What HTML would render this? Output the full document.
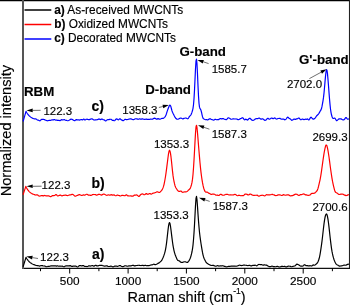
<!DOCTYPE html><html><head><meta charset="utf-8"><style>html,body{margin:0;padding:0;background:#fff;width:350px;height:305px;overflow:hidden}svg{display:block}</style></head><body><svg width="350" height="305" viewBox="0 0 350 305">
<style>text{font-family:"Liberation Sans",Arial,sans-serif;fill:#000;stroke:#000;stroke-width:0.15px}.tk{font-size:11.8px}.an{font-size:11.5px}.bd{font-size:13.3px;font-weight:bold}.bd2{font-size:14px;font-weight:bold}.lg{font-size:11.85px}.ax{font-size:14.5px}</style>
<rect width="350" height="305" fill="#fff"/>
<line x1="0" y1="0.5" x2="350" y2="0.5" stroke="#000" stroke-width="1.4"/>
<line x1="349.5" y1="0" x2="349.5" y2="269" stroke="#222" stroke-width="1.1"/>
<line x1="22" y1="268.4" x2="350" y2="268.4" stroke="#111" stroke-width="1.2"/>
<line x1="23" y1="0" x2="23" y2="269" stroke="#555" stroke-width="2"/>
<polyline points="23.1,266.80 24.0,263.88 24.5,262.26 25.0,260.64 25.5,259.02 26.0,257.40 26.0,257.37 26.5,258.23 27.0,259.02 27.5,259.72 28.0,260.37 28.5,260.95 29.0,261.47 29.5,261.95 30.0,262.38 30.5,262.77 31.0,263.12 31.5,263.44 32.0,263.72 32.5,263.98 33.0,264.22 33.5,264.43 34.0,264.63 34.5,264.82 35.0,265.00 35.5,265.20 36.0,265.38 36.5,265.49 37.0,265.55 37.5,265.59 38.0,265.64 38.5,265.77 39.0,265.96 39.5,266.07 40.0,265.98 40.5,265.75 41.0,265.56 41.5,265.51 42.0,265.54 42.5,265.66 43.0,265.86 43.5,265.99 44.0,265.98 44.5,265.97 45.0,266.13 45.5,266.43 46.0,266.67 46.5,266.76 47.0,266.70 47.5,266.54 48.0,266.36 48.5,266.27 49.0,266.30 49.5,266.29 50.0,266.15 50.5,265.95 51.0,265.80 51.5,265.79 52.0,265.90 52.5,265.95 53.0,265.90 53.5,265.86 54.0,265.84 54.5,265.79 55.0,265.76 55.5,265.88 56.0,266.06 56.5,266.06 57.0,265.91 57.5,265.89 58.0,266.05 58.5,266.22 59.0,266.26 59.5,266.18 60.0,266.14 60.5,266.19 61.0,266.25 61.5,266.17 62.0,266.07 62.5,266.16 63.0,266.45 63.5,266.71 64.0,266.77 64.5,266.62 65.0,266.32 65.5,266.01 66.0,265.85 66.5,265.86 67.0,265.87 67.5,265.81 68.0,265.78 68.5,265.87 69.0,265.94 69.5,265.83 70.0,265.65 70.5,265.66 71.0,265.96 71.5,266.29 72.0,266.40 72.5,266.30 73.0,266.17 73.5,266.11 74.0,266.09 74.5,266.06 75.0,266.01 75.5,266.03 76.0,266.16 76.5,266.42 77.0,266.75 77.5,266.98 78.0,266.87 78.5,266.41 79.0,265.88 79.5,265.60 80.0,265.56 80.5,265.60 81.0,265.71 81.5,265.85 82.0,265.83 82.5,265.62 83.0,265.48 83.5,265.60 84.0,265.95 84.5,266.31 85.0,266.48 85.5,266.47 86.0,266.43 86.5,266.50 87.0,266.58 87.5,266.51 88.0,266.23 88.5,265.91 89.0,265.77 89.5,265.88 90.0,266.05 90.5,266.05 91.0,265.90 91.5,265.74 92.0,265.64 92.5,265.62 93.0,265.77 93.5,266.05 94.0,266.16 94.5,265.91 95.0,265.50 95.5,265.27 96.0,265.36 96.5,265.65 97.0,265.88 97.5,265.93 98.0,265.85 98.5,265.68 99.0,265.46 99.5,265.29 100.0,265.25 100.5,265.29 101.0,265.29 101.5,265.29 102.0,265.38 102.5,265.56 103.0,265.72 103.5,265.83 104.0,265.96 104.5,266.12 105.0,266.18 105.5,266.04 106.0,265.84 106.5,265.76 107.0,265.87 107.5,266.08 108.0,266.32 108.5,266.48 109.0,266.52 109.5,266.47 110.0,266.35 110.5,266.21 111.0,266.14 111.5,266.22 112.0,266.46 112.5,266.75 113.0,266.89 113.5,266.76 114.0,266.45 114.5,266.19 115.0,266.10 115.5,266.09 116.0,266.10 116.5,266.17 117.0,266.29 117.5,266.34 118.0,266.26 118.5,266.06 119.0,265.79 119.5,265.57 120.0,265.52 120.5,265.69 121.0,266.02 121.5,266.33 122.0,266.54 122.5,266.66 123.0,266.66 123.5,266.48 124.0,266.18 124.5,265.90 125.0,265.74 125.5,265.73 126.0,265.84 126.5,266.03 127.0,266.22 127.5,266.25 128.0,266.12 128.5,265.96 129.0,265.88 129.5,265.86 130.0,265.86 130.5,265.86 131.0,265.80 131.5,265.67 132.0,265.49 132.5,265.31 133.0,265.24 133.5,265.37 134.0,265.66 134.5,265.90 135.0,265.88 135.5,265.70 136.0,265.56 136.5,265.52 137.0,265.51 137.5,265.45 138.0,265.32 138.5,265.23 139.0,265.27 139.5,265.38 140.0,265.46 140.5,265.51 141.0,265.57 141.5,265.51 142.0,265.36 142.5,265.28 143.0,265.38 143.5,265.57 144.0,265.65 144.5,265.50 145.0,265.28 145.5,265.28 146.0,265.51 146.5,265.69 147.0,265.67 147.5,265.56 148.0,265.54 148.5,265.60 149.0,265.59 149.5,265.46 150.0,265.28 150.5,265.13 151.0,265.00 151.5,264.94 152.0,264.88 152.5,264.71 153.0,264.43 153.5,264.22 154.0,264.23 154.5,264.41 155.0,264.58 155.5,264.61 156.0,264.46 156.5,264.21 157.0,263.92 157.5,263.66 158.0,263.40 158.5,263.16 159.0,262.91 159.5,262.57 160.0,262.12 160.5,261.66 161.0,261.23 161.5,260.65 162.0,259.82 162.5,258.83 163.0,257.76 163.5,256.55 164.0,255.16 164.5,253.63 165.0,251.83 165.5,249.59 166.0,246.78 166.5,243.31 167.0,239.19 167.5,234.65 168.0,230.13 168.5,226.21 169.0,223.49 169.5,222.51 170.0,223.53 170.5,226.28 171.0,230.04 171.5,234.11 172.0,238.15 172.5,241.98 173.0,245.38 173.5,248.23 174.0,250.61 174.5,252.59 175.0,254.19 175.5,255.56 176.0,256.88 176.5,258.12 177.0,259.20 177.5,260.03 178.0,260.53 178.5,260.70 179.0,260.77 179.5,261.04 180.0,261.54 180.5,262.04 181.0,262.34 181.5,262.44 182.0,262.43 182.5,262.37 183.0,262.25 183.5,262.05 184.0,261.84 184.5,261.73 185.0,261.73 185.5,261.81 186.0,261.99 186.5,262.25 187.0,262.47 187.5,262.43 188.0,262.00 188.5,261.32 189.0,260.60 189.5,259.81 190.0,258.83 190.5,257.51 191.0,255.82 191.5,253.91 192.0,251.75 192.5,248.97 193.0,245.08 193.5,239.81 194.0,233.06 194.5,224.76 195.0,215.14 195.5,205.52 196.0,198.43 196.5,196.42 197.0,199.89 197.5,206.65 198.0,214.15 198.5,221.05 199.0,227.05 199.5,232.20 200.0,236.53 200.5,240.18 201.0,243.49 201.5,246.66 202.0,249.66 202.5,252.40 203.0,254.78 203.5,256.71 204.0,258.13 204.5,259.20 205.0,260.21 205.5,261.28 206.0,262.21 206.5,262.79 207.0,263.13 207.5,263.49 208.0,263.87 208.5,264.18 209.0,264.43 209.5,264.71 210.0,264.98 210.5,265.18 211.0,265.36 211.5,265.48 212.0,265.46 212.5,265.34 213.0,265.30 213.5,265.41 214.0,265.61 214.5,265.84 215.0,266.05 215.5,266.21 216.0,266.22 216.5,266.01 217.0,265.71 217.5,265.58 218.0,265.72 218.5,265.95 219.0,266.05 219.5,265.97 220.0,265.84 220.5,265.78 221.0,265.86 221.5,265.97 222.0,265.91 222.5,265.75 223.0,265.72 223.5,265.93 224.0,266.17 224.5,266.30 225.0,266.40 225.5,266.59 226.0,266.75 226.5,266.79 227.0,266.73 227.5,266.62 228.0,266.47 228.5,266.34 229.0,266.30 229.5,266.36 230.0,266.37 230.5,266.23 231.0,266.06 231.5,266.03 232.0,266.09 232.5,266.13 233.0,266.16 233.5,266.14 234.0,266.06 234.5,265.99 235.0,266.06 235.5,266.22 236.0,266.27 236.5,266.17 237.0,266.04 237.5,265.92 238.0,265.72 238.5,265.45 239.0,265.25 239.5,265.19 240.0,265.24 240.5,265.36 241.0,265.49 241.5,265.53 242.0,265.47 242.5,265.35 243.0,265.21 243.5,265.08 244.0,265.02 244.5,265.08 245.0,265.20 245.5,265.25 246.0,265.25 246.5,265.32 247.0,265.44 247.5,265.53 248.0,265.55 248.5,265.47 249.0,265.32 249.5,265.28 250.0,265.44 250.5,265.72 251.0,265.88 251.5,265.82 252.0,265.63 252.5,265.47 253.0,265.42 253.5,265.42 254.0,265.39 254.5,265.29 255.0,265.18 255.5,265.23 256.0,265.50 256.5,265.79 257.0,265.77 257.5,265.36 258.0,264.82 258.5,264.50 259.0,264.46 259.5,264.52 260.0,264.54 260.5,264.56 261.0,264.56 261.5,264.63 262.0,264.76 262.5,264.95 263.0,265.10 263.5,265.07 264.0,264.92 264.5,264.87 265.0,264.96 265.5,265.03 266.0,265.05 266.5,265.15 267.0,265.36 267.5,265.65 268.0,265.98 268.5,266.30 269.0,266.54 269.5,266.65 270.0,266.65 270.5,266.60 271.0,266.48 271.5,266.28 272.0,266.15 272.5,266.22 273.0,266.42 273.5,266.57 274.0,266.62 274.5,266.66 275.0,266.73 275.5,266.75 276.0,266.64 276.5,266.49 277.0,266.40 277.5,266.41 278.0,266.52 278.5,266.71 279.0,266.92 279.5,267.00 280.0,266.91 280.5,266.73 281.0,266.59 281.5,266.44 282.0,266.31 282.5,266.30 283.0,266.41 283.5,266.48 284.0,266.44 284.5,266.37 285.0,266.46 285.5,266.69 286.0,266.87 286.5,266.84 287.0,266.66 287.5,266.42 288.0,266.23 288.5,266.17 289.0,266.20 289.5,266.24 290.0,266.27 290.5,266.39 291.0,266.61 291.5,266.72 292.0,266.65 292.5,266.50 293.0,266.36 293.5,266.22 294.0,266.11 294.5,266.03 295.0,265.85 295.5,265.48 296.0,264.93 296.5,264.40 297.0,264.15 297.5,264.23 298.0,264.47 298.5,264.72 299.0,265.02 299.5,265.40 300.0,265.82 300.5,266.09 301.0,266.14 301.5,266.07 302.0,266.03 302.5,266.08 303.0,266.02 303.5,265.59 304.0,264.97 304.5,264.68 305.0,264.91 305.5,265.34 306.0,265.60 306.5,265.67 307.0,265.67 307.5,265.70 308.0,265.81 308.5,265.91 309.0,265.91 309.5,265.79 310.0,265.69 310.5,265.73 311.0,265.90 311.5,266.04 312.0,265.86 312.5,265.36 313.0,264.95 313.5,264.94 314.0,265.17 314.5,265.26 315.0,265.03 315.5,264.60 316.0,264.17 316.5,263.77 317.0,263.27 317.5,262.60 318.0,261.72 318.5,260.57 319.0,259.06 319.5,257.07 320.0,254.56 320.5,251.64 321.0,248.43 321.5,244.96 322.0,241.16 322.5,236.97 323.0,232.48 323.5,228.02 324.0,223.91 324.5,220.37 325.0,217.50 325.5,215.40 326.0,214.21 326.5,213.95 327.0,214.71 327.5,216.56 328.0,219.42 328.5,223.02 329.0,227.15 329.5,231.66 330.0,236.21 330.5,240.57 331.0,244.65 331.5,248.32 332.0,251.38 332.5,253.89 333.0,256.06 333.5,257.92 334.0,259.46 334.5,260.78 335.0,261.99 335.5,263.01 336.0,263.81 336.5,264.39 337.0,264.78 337.5,265.02 338.0,265.28 338.5,265.61 339.0,265.91 339.5,266.08 340.0,266.12 340.5,266.02 341.0,265.92 341.5,265.85 342.0,265.75 342.5,265.62 343.0,265.44 343.5,265.22 344.0,265.08 344.5,265.11 345.0,265.22 345.5,265.24 346.0,265.10 346.5,264.88 347.0,264.62 347.5,264.36 348.0,264.22 348.5,264.22 349.0,264.29" fill="none" stroke="#000" stroke-width="1.2" stroke-linejoin="round"/>
<polyline points="23.1,194.70 24.0,191.93 24.5,190.40 25.0,188.86 25.5,187.32 25.8,186.40 26.0,186.80 26.5,187.78 27.0,188.66 27.5,189.45 28.0,190.15 28.5,190.77 29.0,191.33 29.5,191.83 30.0,192.28 30.5,192.67 31.0,193.03 31.5,193.34 32.0,193.62 32.5,193.88 33.0,194.10 33.5,194.30 34.0,194.49 34.5,194.66 35.0,194.82 35.5,194.98 36.0,195.04 36.5,194.91 37.0,194.78 37.5,194.88 38.0,195.25 38.5,195.68 39.0,195.97 39.5,196.07 40.0,196.01 40.5,195.89 41.0,195.77 41.5,195.63 42.0,195.54 42.5,195.64 43.0,195.85 43.5,195.88 44.0,195.64 44.5,195.44 45.0,195.53 45.5,195.77 46.0,195.90 46.5,195.86 47.0,195.82 47.5,195.85 48.0,195.84 48.5,195.80 49.0,195.92 49.5,196.18 50.0,196.47 50.5,196.67 51.0,196.63 51.5,196.28 52.0,195.85 52.5,195.61 53.0,195.58 53.5,195.58 54.0,195.56 54.5,195.48 55.0,195.23 55.5,194.83 56.0,194.58 56.5,194.77 57.0,195.31 57.5,195.80 58.0,195.93 58.5,195.76 59.0,195.53 59.5,195.34 60.0,195.18 60.5,195.15 61.0,195.39 61.5,195.72 62.0,195.83 62.5,195.67 63.0,195.47 63.5,195.38 64.0,195.35 64.5,195.25 65.0,195.09 65.5,195.02 66.0,195.12 66.5,195.34 67.0,195.52 67.5,195.56 68.0,195.47 68.5,195.29 69.0,195.09 69.5,194.96 70.0,194.93 70.5,194.89 71.0,194.78 71.5,194.61 72.0,194.44 72.5,194.36 73.0,194.49 73.5,194.87 74.0,195.39 74.5,195.86 75.0,196.16 75.5,196.19 76.0,195.98 76.5,195.72 77.0,195.52 77.5,195.33 78.0,195.10 78.5,194.88 79.0,194.71 79.5,194.69 80.0,194.81 80.5,195.00 81.0,195.24 81.5,195.45 82.0,195.44 82.5,195.19 83.0,194.96 83.5,194.94 84.0,195.09 84.5,195.20 85.0,195.09 85.5,194.80 86.0,194.48 86.5,194.27 87.0,194.25 87.5,194.48 88.0,194.87 88.5,195.19 89.0,195.27 89.5,195.19 90.0,195.18 90.5,195.31 91.0,195.40 91.5,195.25 92.0,194.91 92.5,194.59 93.0,194.47 93.5,194.51 94.0,194.54 94.5,194.51 95.0,194.50 95.5,194.64 96.0,194.89 96.5,195.08 97.0,195.07 97.5,194.86 98.0,194.59 98.5,194.41 99.0,194.33 99.5,194.36 100.0,194.49 100.5,194.72 101.0,194.95 101.5,195.06 102.0,194.93 102.5,194.59 103.0,194.24 103.5,194.05 104.0,194.06 104.5,194.22 105.0,194.51 105.5,194.82 106.0,195.09 106.5,195.28 107.0,195.27 107.5,195.11 108.0,194.96 108.5,194.95 109.0,195.02 109.5,195.10 110.0,195.09 110.5,194.91 111.0,194.68 111.5,194.67 112.0,194.91 112.5,195.16 113.0,195.15 113.5,194.96 114.0,194.90 114.5,195.12 115.0,195.49 115.5,195.75 116.0,195.73 116.5,195.47 117.0,195.16 117.5,195.06 118.0,195.20 118.5,195.38 119.0,195.47 119.5,195.61 120.0,195.86 120.5,195.99 121.0,195.83 121.5,195.56 122.0,195.36 122.5,195.27 123.0,195.32 123.5,195.47 124.0,195.63 124.5,195.72 125.0,195.64 125.5,195.29 126.0,194.89 126.5,194.84 127.0,195.24 127.5,195.69 128.0,195.89 128.5,195.90 129.0,195.92 129.5,195.98 130.0,195.98 130.5,195.90 131.0,195.91 131.5,196.05 132.0,196.15 132.5,196.18 133.0,196.12 133.5,195.83 134.0,195.39 134.5,195.13 135.0,195.14 135.5,195.14 136.0,195.00 136.5,194.93 137.0,195.07 137.5,195.40 138.0,195.90 138.5,196.38 139.0,196.45 139.5,196.02 140.0,195.36 140.5,194.75 141.0,194.34 141.5,194.13 142.0,193.99 142.5,193.94 143.0,194.10 143.5,194.42 144.0,194.70 144.5,194.74 145.0,194.49 145.5,194.04 146.0,193.66 146.5,193.62 147.0,193.91 147.5,194.22 148.0,194.28 148.5,194.08 149.0,193.76 149.5,193.53 150.0,193.56 150.5,193.86 151.0,194.15 151.5,194.11 152.0,193.76 152.5,193.39 153.0,193.18 153.5,193.07 154.0,192.97 154.5,192.84 155.0,192.67 155.5,192.47 156.0,192.23 156.5,191.97 157.0,191.80 157.5,191.81 158.0,191.98 158.5,192.22 159.0,192.45 159.5,192.48 160.0,192.20 160.5,191.69 161.0,191.16 161.5,190.64 162.0,189.99 162.5,189.07 163.0,187.89 163.5,186.43 164.0,184.53 164.5,182.17 165.0,179.50 165.5,176.50 166.0,173.08 166.5,169.35 167.0,165.45 167.5,161.47 168.0,157.53 168.5,153.93 169.0,151.27 169.5,150.20 170.0,151.00 170.5,153.39 171.0,156.95 171.5,161.37 172.0,166.29 172.5,171.17 173.0,175.39 173.5,178.74 174.0,181.40 174.5,183.69 175.0,185.64 175.5,187.08 176.0,188.01 176.5,188.75 177.0,189.54 177.5,190.32 178.0,190.87 178.5,191.20 179.0,191.38 179.5,191.38 180.0,191.19 180.5,190.98 181.0,191.01 181.5,191.42 182.0,191.98 182.5,192.29 183.0,192.25 183.5,192.11 184.0,192.00 184.5,191.90 185.0,191.83 185.5,191.84 186.0,191.84 186.5,191.75 187.0,191.52 187.5,191.11 188.0,190.54 188.5,190.01 189.0,189.68 189.5,189.35 190.0,188.70 190.5,187.65 191.0,186.29 191.5,184.63 192.0,182.39 192.5,179.13 193.0,174.44 193.5,168.06 194.0,160.18 194.5,151.25 195.0,141.85 195.5,133.12 196.0,127.02 196.5,125.24 197.0,127.72 197.5,132.81 198.0,138.92 198.5,145.18 199.0,151.27 199.5,157.12 200.0,162.72 200.5,167.88 201.0,172.39 201.5,176.28 202.0,179.67 202.5,182.63 203.0,185.19 203.5,187.32 204.0,189.03 204.5,190.37 205.0,191.37 205.5,191.98 206.0,192.19 206.5,192.14 207.0,192.04 207.5,192.20 208.0,192.65 208.5,193.09 209.0,193.31 209.5,193.43 210.0,193.70 210.5,194.09 211.0,194.36 211.5,194.37 212.0,194.21 212.5,194.06 213.0,194.05 213.5,194.13 214.0,194.18 214.5,194.23 215.0,194.47 215.5,194.89 216.0,195.21 216.5,195.23 217.0,195.13 217.5,195.15 218.0,195.33 218.5,195.50 219.0,195.42 219.5,195.05 220.0,194.57 220.5,194.25 221.0,194.25 221.5,194.54 222.0,194.92 222.5,195.15 223.0,195.24 223.5,195.24 224.0,195.13 224.5,194.94 225.0,194.77 225.5,194.56 226.0,194.33 226.5,194.23 227.0,194.29 227.5,194.36 228.0,194.47 228.5,194.72 229.0,194.95 229.5,194.99 230.0,194.90 230.5,194.80 231.0,194.80 231.5,194.91 232.0,194.99 232.5,194.96 233.0,194.91 233.5,194.82 234.0,194.65 234.5,194.45 235.0,194.38 235.5,194.53 236.0,194.85 236.5,195.21 237.0,195.55 237.5,195.71 238.0,195.59 238.5,195.33 239.0,195.22 239.5,195.31 240.0,195.50 240.5,195.68 241.0,195.75 241.5,195.67 242.0,195.55 242.5,195.56 243.0,195.69 243.5,195.62 244.0,195.17 244.5,194.53 245.0,194.09 245.5,194.00 246.0,194.10 246.5,194.21 247.0,194.36 247.5,194.63 248.0,194.91 248.5,194.94 249.0,194.69 249.5,194.38 250.0,194.16 250.5,194.09 251.0,194.25 251.5,194.59 252.0,194.93 252.5,195.12 253.0,195.23 253.5,195.32 254.0,195.35 254.5,195.29 255.0,195.24 255.5,195.24 256.0,195.28 256.5,195.25 257.0,195.19 257.5,195.33 258.0,195.72 258.5,196.09 259.0,196.18 259.5,195.95 260.0,195.65 260.5,195.47 261.0,195.40 261.5,195.32 262.0,195.23 262.5,195.21 263.0,195.34 263.5,195.56 264.0,195.77 264.5,195.87 265.0,195.75 265.5,195.40 266.0,194.98 266.5,194.71 267.0,194.69 267.5,194.85 268.0,194.97 268.5,194.94 269.0,194.87 269.5,194.83 270.0,194.79 270.5,194.76 271.0,194.70 271.5,194.53 272.0,194.34 272.5,194.37 273.0,194.57 273.5,194.74 274.0,194.89 274.5,195.12 275.0,195.38 275.5,195.55 276.0,195.59 276.5,195.52 277.0,195.36 277.5,195.15 278.0,194.93 278.5,194.81 279.0,194.84 279.5,194.94 280.0,194.96 280.5,194.99 281.0,195.22 281.5,195.50 282.0,195.49 282.5,195.17 283.0,194.80 283.5,194.68 284.0,194.80 284.5,194.97 285.0,195.13 285.5,195.26 286.0,195.21 286.5,194.99 287.0,194.82 287.5,194.81 288.0,194.85 288.5,194.90 289.0,195.08 289.5,195.44 290.0,195.79 290.5,195.94 291.0,195.87 291.5,195.70 292.0,195.61 292.5,195.56 293.0,195.41 293.5,195.15 294.0,194.87 294.5,194.64 295.0,194.42 295.5,194.21 296.0,194.14 296.5,194.22 297.0,194.40 297.5,194.66 298.0,195.03 298.5,195.37 299.0,195.44 299.5,195.16 300.0,194.81 300.5,194.64 301.0,194.63 301.5,194.59 302.0,194.46 302.5,194.28 303.0,194.11 303.5,193.96 304.0,193.96 304.5,194.21 305.0,194.60 305.5,194.84 306.0,194.87 306.5,194.89 307.0,195.06 307.5,195.28 308.0,195.38 308.5,195.33 309.0,195.27 309.5,195.21 310.0,194.98 310.5,194.50 311.0,193.94 311.5,193.53 312.0,193.35 312.5,193.32 313.0,193.32 313.5,193.31 314.0,193.27 314.5,193.17 315.0,192.90 315.5,192.41 316.0,191.81 316.5,191.30 317.0,190.78 317.5,189.89 318.0,188.43 318.5,186.48 319.0,184.33 319.5,182.19 320.0,180.03 320.5,177.49 321.0,174.45 321.5,171.08 322.0,167.54 322.5,163.89 323.0,160.27 323.5,156.81 324.0,153.60 324.5,150.77 325.0,148.30 325.5,146.30 326.0,145.10 326.5,145.01 327.0,146.02 327.5,148.03 328.0,150.73 328.5,153.73 329.0,156.99 329.5,160.66 330.0,164.54 330.5,168.27 331.0,171.79 331.5,175.20 332.0,178.41 332.5,181.20 333.0,183.58 333.5,185.77 334.0,187.90 334.5,189.85 335.0,191.35 335.5,192.20 336.0,192.50 336.5,192.72 337.0,193.07 337.5,193.44 338.0,193.78 338.5,194.16 339.0,194.45 339.5,194.49 340.0,194.41 340.5,194.21 341.0,194.20 341.5,194.22 342.0,194.21 342.5,194.21 343.0,194.28 343.5,194.41 344.0,194.85 344.5,195.10 345.0,195.18 345.5,195.32 346.0,195.63 346.5,195.53 347.0,195.34 347.5,195.09 348.0,194.88 348.5,194.72 349.0,194.51" fill="none" stroke="#ff0000" stroke-width="1.2" stroke-linejoin="round"/>
<polyline points="23.1,121.50 24.0,118.33 24.5,116.58 25.0,114.82 25.5,113.06 26.0,111.30 26.0,111.30 26.5,112.21 27.0,113.03 27.5,113.77 28.0,114.43 28.5,115.03 29.0,115.57 29.5,116.06 30.0,116.50 30.5,116.89 31.0,117.25 31.5,117.57 32.0,117.86 32.5,118.12 33.0,118.36 33.5,118.57 34.0,118.76 34.5,118.89 35.0,118.88 35.5,118.84 36.0,118.97 36.5,119.27 37.0,119.64 37.5,119.98 38.0,120.16 38.5,120.22 39.0,120.43 39.5,120.78 40.0,120.87 40.5,120.40 41.0,119.79 41.5,119.45 42.0,119.43 42.5,119.45 43.0,119.38 43.5,119.36 44.0,119.47 44.5,119.65 45.0,119.88 45.5,120.09 46.0,120.25 46.5,120.46 47.0,120.70 47.5,120.79 48.0,120.65 48.5,120.47 49.0,120.40 49.5,120.41 50.0,120.40 50.5,120.35 51.0,120.25 51.5,120.03 52.0,119.83 52.5,119.83 53.0,119.92 53.5,119.84 54.0,119.65 54.5,119.60 55.0,119.81 55.5,120.08 56.0,120.22 56.5,120.19 57.0,120.16 57.5,120.32 58.0,120.47 58.5,120.42 59.0,120.40 59.5,120.55 60.0,120.65 60.5,120.43 61.0,119.97 61.5,119.64 62.0,119.68 62.5,119.94 63.0,120.02 63.5,119.76 64.0,119.48 64.5,119.60 65.0,120.00 65.5,120.26 66.0,120.28 66.5,120.34 67.0,120.55 67.5,120.74 68.0,120.73 68.5,120.53 69.0,120.26 69.5,119.97 70.0,119.63 70.5,119.30 71.0,119.17 71.5,119.22 72.0,119.34 72.5,119.56 73.0,119.88 73.5,120.21 74.0,120.50 74.5,120.67 75.0,120.57 75.5,120.13 76.0,119.69 76.5,119.63 77.0,119.83 77.5,119.89 78.0,119.79 78.5,119.80 79.0,119.96 79.5,120.05 80.0,119.95 80.5,119.74 81.0,119.59 81.5,119.60 82.0,119.77 82.5,119.88 83.0,119.63 83.5,119.15 84.0,119.13 84.5,119.67 85.0,120.04 85.5,119.80 86.0,119.41 86.5,119.23 87.0,119.21 87.5,119.29 88.0,119.48 88.5,119.66 89.0,119.71 89.5,119.61 90.0,119.38 90.5,119.14 91.0,118.99 91.5,118.92 92.0,118.91 92.5,119.03 93.0,119.39 93.5,119.82 94.0,120.04 94.5,120.01 95.0,119.89 95.5,119.79 96.0,119.77 96.5,119.78 97.0,119.70 97.5,119.57 98.0,119.40 98.5,119.15 99.0,118.96 99.5,119.09 100.0,119.45 100.5,119.63 101.0,119.41 101.5,119.05 102.0,118.98 102.5,119.28 103.0,119.62 103.5,119.74 104.0,119.82 104.5,120.12 105.0,120.57 105.5,120.91 106.0,120.87 106.5,120.42 107.0,119.92 107.5,119.66 108.0,119.64 108.5,119.66 109.0,119.57 109.5,119.37 110.0,119.25 110.5,119.24 111.0,119.31 111.5,119.58 112.0,120.06 112.5,120.43 113.0,120.47 113.5,120.41 114.0,120.58 114.5,120.72 115.0,120.37 115.5,119.66 116.0,119.11 116.5,118.91 117.0,118.99 117.5,119.32 118.0,119.73 118.5,119.85 119.0,119.47 119.5,118.91 120.0,118.74 120.5,119.09 121.0,119.61 121.5,119.96 122.0,120.13 122.5,120.39 123.0,120.70 123.5,120.64 124.0,120.16 124.5,119.65 125.0,119.36 125.5,119.33 126.0,119.49 126.5,119.64 127.0,119.62 127.5,119.51 128.0,119.42 128.5,119.29 129.0,119.14 129.5,119.00 130.0,118.88 130.5,118.83 131.0,118.92 131.5,119.11 132.0,119.31 132.5,119.50 133.0,119.64 133.5,119.67 134.0,119.50 134.5,119.21 135.0,118.93 135.5,118.77 136.0,118.76 136.5,118.82 137.0,118.91 137.5,119.09 138.0,119.30 138.5,119.26 139.0,118.99 139.5,118.84 140.0,118.95 140.5,119.10 141.0,119.13 141.5,119.07 142.0,118.96 142.5,118.94 143.0,119.06 143.5,119.19 144.0,119.26 144.5,119.34 145.0,119.36 145.5,119.22 146.0,119.09 146.5,119.18 147.0,119.36 147.5,119.43 148.0,119.42 148.5,119.39 149.0,119.37 149.5,119.33 150.0,119.26 150.5,119.14 151.0,119.10 151.5,119.21 152.0,119.27 152.5,119.15 153.0,118.90 153.5,118.59 154.0,118.31 154.5,118.21 155.0,118.32 155.5,118.56 156.0,118.87 156.5,119.13 157.0,119.12 157.5,118.87 158.0,118.64 158.5,118.65 159.0,118.93 159.5,119.22 160.0,119.21 160.5,118.99 161.0,118.74 161.5,118.49 162.0,118.36 162.5,118.45 163.0,118.47 163.5,118.22 164.0,117.81 164.5,117.36 165.0,116.82 165.5,116.09 166.0,114.98 166.5,113.50 167.0,111.90 167.5,110.41 168.0,109.06 168.5,107.73 169.0,106.44 169.5,105.44 170.0,105.07 170.5,105.59 171.0,107.03 171.5,109.01 172.0,110.88 172.5,112.27 173.0,113.34 173.5,114.32 174.0,115.28 174.5,116.19 175.0,117.10 175.5,117.94 176.0,118.57 176.5,118.92 177.0,119.11 177.5,119.23 178.0,119.24 178.5,119.06 179.0,118.71 179.5,118.38 180.0,118.22 180.5,118.14 181.0,118.10 181.5,118.22 182.0,118.55 182.5,118.86 183.0,118.86 183.5,118.59 184.0,118.35 184.5,118.24 185.0,118.14 185.5,118.01 186.0,118.01 186.5,118.21 187.0,118.55 187.5,118.78 188.0,118.64 188.5,118.03 189.0,117.19 189.5,116.44 190.0,115.92 190.5,115.46 191.0,114.75 191.5,113.60 192.0,112.13 192.5,110.52 193.0,108.37 193.5,104.75 194.0,98.79 194.5,90.17 195.0,79.54 195.5,68.80 196.0,61.01 196.5,59.15 197.0,64.17 197.5,74.21 198.0,85.84 198.5,96.07 199.0,103.28 199.5,107.15 200.0,108.60 200.5,109.23 201.0,110.32 201.5,112.23 202.0,114.56 202.5,116.67 203.0,118.13 203.5,118.82 204.0,119.03 204.5,119.21 205.0,119.52 205.5,119.72 206.0,119.65 206.5,119.57 207.0,119.75 207.5,119.99 208.0,119.84 208.5,119.41 209.0,119.09 209.5,118.91 210.0,118.77 210.5,118.86 211.0,119.21 211.5,119.52 212.0,119.65 212.5,119.78 213.0,120.01 213.5,120.13 214.0,119.99 214.5,119.64 215.0,119.32 215.5,119.29 216.0,119.53 216.5,119.76 217.0,119.77 217.5,119.69 218.0,119.69 218.5,119.63 219.0,119.36 219.5,118.96 220.0,118.63 220.5,118.52 221.0,118.67 221.5,118.84 222.0,118.84 222.5,118.68 223.0,118.54 223.5,118.64 224.0,118.97 224.5,119.22 225.0,119.33 225.5,119.49 226.0,119.68 226.5,119.61 227.0,119.10 227.5,118.39 228.0,117.96 228.5,117.92 229.0,118.03 229.5,118.21 230.0,118.57 230.5,119.00 231.0,119.23 231.5,119.23 232.0,119.14 232.5,119.03 233.0,118.89 233.5,118.84 234.0,118.90 234.5,118.99 235.0,119.00 235.5,118.99 236.0,118.96 236.5,118.98 237.0,119.14 237.5,119.40 238.0,119.59 238.5,119.63 239.0,119.51 239.5,119.19 240.0,118.83 240.5,118.61 241.0,118.48 241.5,118.21 242.0,117.85 242.5,117.70 243.0,117.99 243.5,118.64 244.0,119.37 244.5,119.79 245.0,119.71 245.5,119.37 246.0,119.18 246.5,119.42 247.0,119.89 247.5,120.11 248.0,119.81 248.5,119.20 249.0,118.63 249.5,118.32 250.0,118.33 250.5,118.71 251.0,119.29 251.5,119.81 252.0,120.12 252.5,120.30 253.0,120.34 253.5,120.22 254.0,119.97 254.5,119.58 255.0,119.17 255.5,118.88 256.0,118.73 256.5,118.66 257.0,118.67 257.5,118.68 258.0,118.55 258.5,118.30 259.0,118.12 259.5,118.21 260.0,118.57 260.5,118.95 261.0,119.14 261.5,119.10 262.0,118.94 262.5,118.81 263.0,118.95 263.5,119.35 264.0,119.83 264.5,120.20 265.0,120.33 265.5,120.20 266.0,119.94 266.5,119.50 267.0,118.88 267.5,118.37 268.0,118.34 268.5,118.74 269.0,119.14 269.5,119.20 270.0,118.97 270.5,118.62 271.0,118.27 271.5,118.07 272.0,118.14 272.5,118.37 273.0,118.57 273.5,118.53 274.0,118.20 274.5,117.94 275.0,118.08 275.5,118.47 276.0,118.83 276.5,119.04 277.0,119.00 277.5,118.71 278.0,118.47 278.5,118.49 279.0,118.52 279.5,118.40 280.0,118.38 280.5,118.67 281.0,119.05 281.5,119.20 282.0,119.13 282.5,119.03 283.0,119.02 283.5,119.07 284.0,119.30 284.5,119.69 285.0,119.84 285.5,119.57 286.0,119.12 286.5,118.52 287.0,117.76 287.5,117.22 288.0,117.23 288.5,117.68 289.0,118.24 289.5,118.63 290.0,118.79 290.5,119.04 291.0,119.59 291.5,120.16 292.0,120.33 292.5,120.08 293.0,119.67 293.5,119.31 294.0,119.13 294.5,119.18 295.0,119.33 295.5,119.34 296.0,119.13 296.5,118.92 297.0,118.85 297.5,118.72 298.0,118.37 298.5,118.02 299.0,117.99 299.5,118.43 300.0,119.16 300.5,119.70 301.0,119.75 301.5,119.46 302.0,119.15 302.5,119.02 303.0,119.16 303.5,119.49 304.0,119.69 304.5,119.54 305.0,119.26 305.5,119.18 306.0,119.31 306.5,119.32 307.0,119.06 307.5,118.94 308.0,119.32 308.5,119.83 309.0,119.89 309.5,119.33 310.0,118.38 310.5,117.48 311.0,117.15 311.5,117.49 312.0,118.19 312.5,118.80 313.0,119.09 313.5,119.10 314.0,118.92 314.5,118.62 315.0,118.22 315.5,117.62 316.0,116.78 316.5,115.99 317.0,115.48 317.5,115.04 318.0,114.54 318.5,114.01 319.0,113.32 319.5,112.39 320.0,111.45 320.5,110.68 321.0,109.87 321.5,108.56 322.0,106.43 322.5,103.73 323.0,100.79 323.5,97.44 324.0,93.11 324.5,87.72 325.0,81.88 325.5,76.37 326.0,71.98 326.5,69.66 327.0,70.29 327.5,73.88 328.0,79.43 328.5,85.81 329.0,92.35 329.5,98.69 330.0,104.38 330.5,108.98 331.0,112.36 331.5,114.78 332.0,116.52 332.5,117.75 333.0,118.43 333.5,118.52 334.0,118.26 334.5,118.09 335.0,118.33 335.5,119.02 336.0,119.91 336.5,120.57 337.0,120.58 337.5,120.11 338.0,119.59 338.5,119.18 339.0,118.87 339.5,118.78 340.0,118.82 340.5,118.82 341.0,118.86 341.5,119.10 342.0,119.43 342.5,119.68 343.0,119.81 343.5,119.84 344.0,119.72 344.5,119.29 345.0,118.56 345.5,117.83 346.0,117.52 346.5,117.83 347.0,118.54 347.5,119.12 348.0,119.20 348.5,118.97 349.0,118.84" fill="none" stroke="#0000ff" stroke-width="1.2" stroke-linejoin="round"/>
<line x1="40.5" y1="268" x2="40.5" y2="271.2" stroke="#000" stroke-width="1"/>
<line x1="69.7" y1="268" x2="69.7" y2="273.5" stroke="#000" stroke-width="1"/>
<text x="69.7" y="284.8" text-anchor="middle" class="tk">500</text>
<line x1="98.9" y1="268" x2="98.9" y2="271.2" stroke="#000" stroke-width="1"/>
<line x1="128.1" y1="268" x2="128.1" y2="273.5" stroke="#000" stroke-width="1"/>
<text x="128.1" y="284.8" text-anchor="middle" class="tk">1000</text>
<line x1="157.2" y1="268" x2="157.2" y2="271.2" stroke="#000" stroke-width="1"/>
<line x1="186.4" y1="268" x2="186.4" y2="273.5" stroke="#000" stroke-width="1"/>
<text x="186.4" y="284.8" text-anchor="middle" class="tk">1500</text>
<line x1="215.6" y1="268" x2="215.6" y2="271.2" stroke="#000" stroke-width="1"/>
<line x1="244.8" y1="268" x2="244.8" y2="273.5" stroke="#000" stroke-width="1"/>
<text x="244.8" y="284.8" text-anchor="middle" class="tk">2000</text>
<line x1="274.0" y1="268" x2="274.0" y2="271.2" stroke="#000" stroke-width="1"/>
<line x1="303.2" y1="268" x2="303.2" y2="273.5" stroke="#000" stroke-width="1"/>
<text x="303.2" y="284.8" text-anchor="middle" class="tk">2500</text>
<line x1="332.4" y1="268" x2="332.4" y2="271.2" stroke="#000" stroke-width="1"/>
<text x="43.4" y="114.69999999999999" class="an">122.3</text>
<text x="122.3" y="113.9" class="an">1358.3</text>
<text x="211.7" y="72.6" class="an">1585.7</text>
<text x="286.9" y="88.2" class="an">2702.0</text>
<text x="41.599999999999994" y="189.2" class="an">122.3</text>
<text x="153.9" y="148.4" class="an">1353.3</text>
<text x="211.7" y="138.2" class="an">1587.3</text>
<text x="312.40000000000003" y="141.4" class="an">2699.3</text>
<text x="40.1" y="261.3" class="an">122.3</text>
<text x="153.5" y="219.1" class="an">1353.3</text>
<text x="212.7" y="210.3" class="an">1587.3</text>
<text x="312.40000000000003" y="210.79999999999998" class="an">2700.6</text>
<text x="24.0" y="95.9" class="bd">RBM</text>
<text x="145.2" y="94.1" class="bd">D-band</text>
<text x="179.4" y="55.7" class="bd">G-band</text>
<text x="299.0" y="64.2" class="bd">G'-band</text>
<text x="91.4" y="111.3" class="bd2">c)</text>
<text x="91.4" y="187.6" class="bd2">b)</text>
<text x="91.9" y="259.3" class="bd2">a)</text>
<line x1="40.6" y1="110.3" x2="32.7" y2="110.4" stroke="#555" stroke-width="0.85"/><polygon points="26.5,110.5 32.7,108.6 32.7,112.2" fill="#000"/>
<line x1="158.9" y1="107.5" x2="162.9" y2="106.5" stroke="#555" stroke-width="0.85"/><polygon points="168.9,105.1 163.3,108.3 162.5,104.8" fill="#000"/>
<line x1="208.6" y1="63.6" x2="203.3" y2="61.8" stroke="#555" stroke-width="0.85"/><polygon points="197.4,59.9 203.9,60.1 202.7,63.6" fill="#000"/>
<line x1="309.4" y1="78.6" x2="321.2" y2="72.2" stroke="#555" stroke-width="0.85"/><polygon points="326.6,69.2 322.0,73.8 320.3,70.6" fill="#000"/>
<line x1="41.6" y1="186.2" x2="32.7" y2="186.3" stroke="#555" stroke-width="0.85"/><polygon points="26.5,186.3 32.7,184.5 32.7,188.1" fill="#000"/>
<line x1="209.4" y1="129.2" x2="203.9" y2="127.3" stroke="#555" stroke-width="0.85"/><polygon points="198.0,125.3 204.4,125.6 203.3,129.0" fill="#000"/>
<line x1="38.0" y1="258.5" x2="32.4" y2="257.6" stroke="#555" stroke-width="0.85"/><polygon points="26.3,256.6 32.7,255.8 32.1,259.4" fill="#000"/>
<line x1="209.7" y1="201.4" x2="204.9" y2="199.8" stroke="#555" stroke-width="0.85"/><polygon points="199.0,197.8 205.5,198.1 204.3,201.5" fill="#000"/>
<line x1="24.5" y1="10.0" x2="51.3" y2="10.0" stroke="#000" stroke-width="1.5"/>
<text x="54.2" y="14.1" class="lg"><tspan font-weight="bold">a)</tspan> As-received MWCNTs</text>
<line x1="24.5" y1="24.5" x2="51.3" y2="24.5" stroke="#ff0000" stroke-width="1.5"/>
<text x="54.2" y="28.3" class="lg"><tspan font-weight="bold">b)</tspan> Oxidized MWCNTs</text>
<line x1="24.5" y1="39.0" x2="51.3" y2="39.0" stroke="#0000ff" stroke-width="1.5"/>
<text x="54.2" y="42.3" class="lg"><tspan font-weight="bold">c)</tspan> Decorated MWCNTs</text>
<text x="127.6" y="302" class="ax">Raman shift (cm<tspan font-size="8.6px" dy="-8.4">-1</tspan><tspan dy="8.4">)</tspan></text>
<text transform="translate(10.8,196.3) rotate(-90)" x="0" y="0" class="ax" style="font-size:14.6px">Normalized intensity</text>
</svg></body></html>
